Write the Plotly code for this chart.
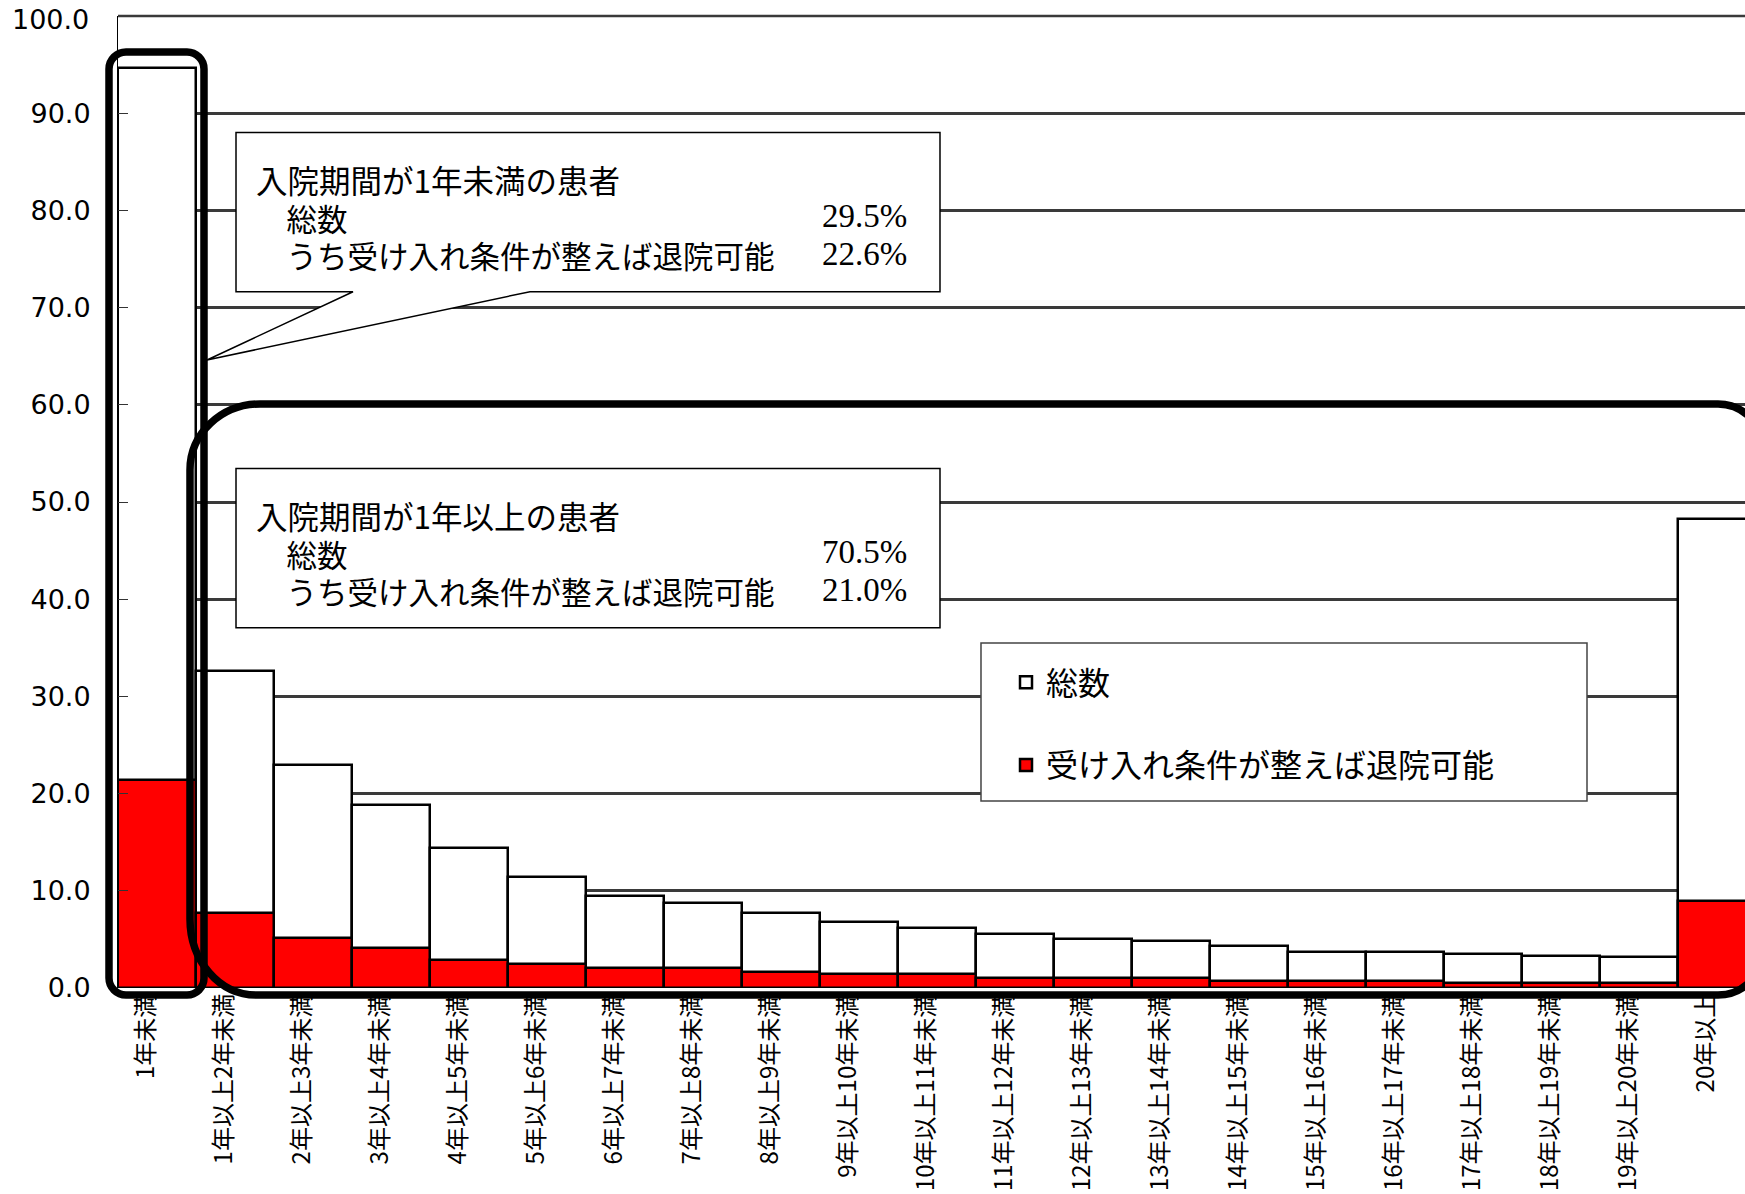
import plotly.graph_objects as go

# ---------------- data ----------------
categories = ["1年未満", "1年以上2年未満", "2年以上3年未満", "3年以上4年未満",
              "4年以上5年未満", "5年以上6年未満", "6年以上7年未満", "7年以上8年未満",
              "8年以上9年未満", "9年以上10年未満", "10年以上11年未満", "11年以上12年未満",
              "12年以上13年未満", "13年以上14年未満", "14年以上15年未満", "15年以上16年未満",
              "16年以上17年未満", "17年以上18年未満", "18年以上19年未満", "19年以上20年未満",
              "20年以上"]
total = [94.6, 32.6, 22.9, 18.8, 14.4, 11.4, 9.5, 8.7, 7.7, 6.8, 6.2,
         5.6, 5.0, 4.8, 4.3, 3.7, 3.7, 3.5, 3.3, 3.2, 48.3]
discharge = [21.4, 7.7, 5.1, 4.1, 2.9, 2.5, 2.1, 2.1, 1.6, 1.45, 1.45,
             1.0, 1.0, 1.0, 0.75, 0.75, 0.75, 0.55, 0.55, 0.55, 8.9]
series_names = ["総数", "受け入れ条件が整えば退院可能"]
y_ticks = [0, 10, 20, 30, 40, 50, 60, 70, 80, 90, 100]
y_ticktext = ["0.0", "10.0", "20.0", "30.0", "40.0", "50.0", "60.0", "70.0", "80.0", "90.0", "100.0"]

box1_lines = ["入院期間が1年未満の患者", "総数", "うち受け入れ条件が整えば退院可能"]
box1_pct = ["29.5%", "22.6%"]
box2_lines = ["入院期間が1年以上の患者", "総数", "うち受け入れ条件が整えば退院可能"]
box2_pct = ["70.5%", "21.0%"]

positions = list(range(len(categories)))

# ---------------- layout geometry (screen pixels) ----------------
W, H = 1745, 1194
PLOT_L, PLOT_T, PLOT_B = 118, 16, 988   # plot area in px
ML, MT, MR = PLOT_L, PLOT_T, 0
MB = H - PLOT_B
PW = W - ML - MR
PH = H - MT - MB
BARPX = 78.0
x_max = -0.5 + PW / BARPX
LABEL_SHIFT = 11 / BARPX

JP = "Noto Sans CJK JP"
TICKFONT = dict(family="DejaVu Sans", size=27, color="black")


def px(x):
    return (x - PLOT_L) / PW


def py(y):
    return (PLOT_B - y) / PH


def rrect(x0, y0, x1, y1, tl, tr, br, bl):
    k = 0.5523

    def P(x, y):
        return f"{px(x):.5f},{py(y):.5f}"
    s = "M " + P(x0 + tl[0], y0)
    s += " L " + P(x1 - tr[0], y0)
    s += " C " + P(x1 - tr[0] + k * tr[0], y0) + " " + P(x1, y0 + tr[1] - k * tr[1]) + " " + P(x1, y0 + tr[1])
    s += " L " + P(x1, y1 - br[1])
    s += " C " + P(x1, y1 - br[1] + k * br[1]) + " " + P(x1 - br[0] + k * br[0], y1) + " " + P(x1 - br[0], y1)
    s += " L " + P(x0 + bl[0], y1)
    s += " C " + P(x0 + bl[0] - k * bl[0], y1) + " " + P(x0, y1 - bl[1] + k * bl[1]) + " " + P(x0, y1 - bl[1])
    s += " L " + P(x0, y0 + tl[1])
    s += " C " + P(x0, y0 + tl[1] - k * tl[1]) + " " + P(x0 + tl[0] - k * tl[0], y0) + " " + P(x0 + tl[0], y0)
    s += " Z"
    return s


def poly(points):
    return "M " + " L ".join(f"{px(x):.5f},{py(y):.5f}" for x, y in points) + " Z"


fig = go.Figure()
fig.add_trace(go.Bar(
    x=positions, y=total, name=series_names[0], width=1.0,
    marker=dict(color="white", line=dict(color="black", width=2.5)),
    legendgroup="a",
))
fig.add_trace(go.Bar(
    x=positions, y=discharge, name=series_names[1], width=1.0,
    marker=dict(color="#FF0000", line=dict(color="black", width=2.5)),
    legendgroup="b",
))

shapes = []
# top gridline at 100 (plotly omits the grid line at the range edge)
shapes.append(dict(type="line", xref="paper", yref="paper", x0=0, x1=1, y0=1, y1=1,
                   layer="below", line=dict(color="#3a3a3a", width=2.5)))
# callout box 1 with pointer
shapes.append(dict(type="path", xref="paper", yref="paper", layer="above",
                   path=poly([(236, 132.5), (940, 132.5), (940, 291.7), (530, 291.7),
                              (207, 360), (353, 291.7), (236, 291.7)]),
                   fillcolor="white", line=dict(color="black", width=1.5)))
# callout box 2
shapes.append(dict(type="path", xref="paper", yref="paper", layer="above",
                   path=poly([(236, 468.6), (940, 468.6), (940, 627.7), (236, 627.7)]),
                   fillcolor="white", line=dict(color="black", width=1.5)))
# legend box
shapes.append(dict(type="path", xref="paper", yref="paper", layer="above",
                   path=poly([(981, 643), (1587, 643), (1587, 801), (981, 801)]),
                   fillcolor="white", line=dict(color="#444444", width=1.5)))
# rounded highlight rectangles
shapes.append(dict(type="path", xref="paper", yref="paper", layer="above",
                   path=rrect(109, 52, 204, 995, (17, 17), (17, 17), (17, 17), (17, 17)),
                   fillcolor="rgba(0,0,0,0)", line=dict(color="black", width=7.5)))
shapes.append(dict(type="path", xref="paper", yref="paper", layer="above",
                   path=rrect(190, 404, 1763, 995, (70, 66), (45, 45), (45, 45), (66, 76)),
                   fillcolor="rgba(0,0,0,0)", line=dict(color="black", width=7.5)))

annotations = []
# the top tick label, placed just under the top edge like the reference
annotations.append(dict(xref="paper", yref="paper", x=px(91), y=py(20),
                        text=y_ticktext[-1], showarrow=False, xanchor="right", yanchor="middle",
                        font=TICKFONT))


def add_box_text(lines, pcts, top):
    txt = (f"<span style='font-size:31.5px'>{lines[0]}</span><br>"
           f"<span style='font-size:30.5px'>\u3000{lines[1]}</span><br>"
           f"<span style='font-size:30.5px'>\u3000{lines[2]}</span>")
    annotations.append(dict(xref="paper", yref="paper", x=px(254), y=py(top + 84),
                            text=txt, showarrow=False, xanchor="left", yanchor="middle",
                            align="left",
                            font=dict(family=JP, size=29, color="black")))
    ptxt = f"<span style='font-size:33px'>{pcts[0]}</span><br><span style='font-size:33px'>{pcts[1]}</span>"
    annotations.append(dict(xref="paper", yref="paper", x=px(909), y=py(top + 102.5),
                            text=ptxt, showarrow=False, xanchor="right", yanchor="middle",
                            align="right",
                            font=dict(family="Liberation Serif", size=29, color="black")))


add_box_text(box1_lines, box1_pct, 132.5)
add_box_text(box2_lines, box2_pct, 468.6)

fig.update_layout(
    width=W, height=H,
    margin=dict(l=ML, r=MR, t=MT, b=MB, autoexpand=False),
    paper_bgcolor="white", plot_bgcolor="white",
    barmode="overlay", bargap=0,
    showlegend=True,
    legend=dict(x=px(1006), y=py(655), xanchor="left", yanchor="top",
                bgcolor="rgba(0,0,0,0)", borderwidth=0,
                traceorder="grouped", tracegroupgap=38,
                font=dict(family=JP, size=32, color="black")),
    shapes=shapes,
    annotations=annotations,
    xaxis=dict(range=[-0.5, x_max], showgrid=False, zeroline=False,
               tickmode="array", tickvals=[p - LABEL_SHIFT for p in positions],
               ticktext=categories,
               tickangle=-90, ticks="", showline=False, automargin=False,
               tickfont=dict(family=JP, size=24, color="black")),
    yaxis=dict(range=[0, 100], tickmode="array", tickvals=y_ticks,
               ticktext=y_ticktext[:-1] + [""],
               showgrid=True, gridcolor="#3a3a3a", gridwidth=2.5,
               zeroline=False, showline=True, linecolor="black", linewidth=1,
               ticks="inside", ticklen=10, tickcolor="#333333",
               ticklabelstandoff=21, automargin=False,
               tickfont=TICKFONT),
)

fig.write_html("out.html",
               config={"displayModeBar": False},
               post_script="document.body.style.margin='0';document.body.style.overflow='hidden';")
